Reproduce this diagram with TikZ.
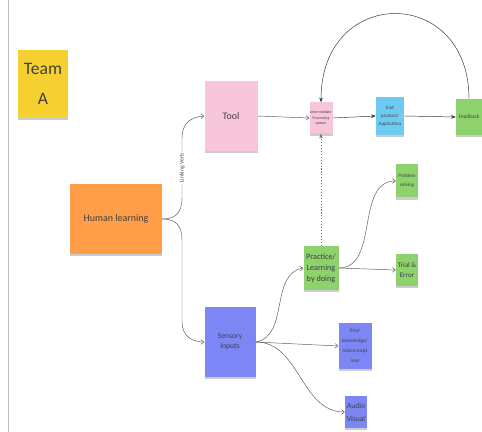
\documentclass[tikz,border=0pt]{standalone}
\usepackage{fontspec}
\setmainfont{Carlito}
\usepackage{tikz}
\usetikzlibrary{arrows.meta, shadows}

\definecolor{noteyellow}{HTML}{F5D031}
\definecolor{noteorange}{HTML}{FF9D48}
\definecolor{notepink}{HTML}{F8C6DA}
\definecolor{notecyan}{HTML}{6DCBF2}
\definecolor{notegreen}{HTML}{8DD26C}
\definecolor{noteblue}{HTML}{7C87F5}

\begin{document}
\begin{tikzpicture}[x=0.03cm, y=-0.03cm,
        note/.style={rectangle, inner sep=0pt, align=center, text=black!75,
            drop shadow={shadow xshift=0pt, shadow yshift=-2pt, fill=black, opacity=0.2}},
        sz/.style 2 args={minimum width=#1*0.03cm, minimum height=#2*0.03cm},
        fs/.style 2 args={font=\fontsize{#1}{#2}\selectfont},
        link/.style={thin, color=black!65, -{Straight Barb[length=2.5pt, width=4pt]}},
        flow/.style={thin, color=black!80, -{Stealth[length=4pt, width=3pt]}}]
                % page and left rule
                \fill[white] (0,0) rectangle (482,432);
                \useasboundingbox (0,0) rectangle (482,432);
                \draw[color = black!25, line width=0.8pt] (8,0) -- (8,432);

                % sticky notes
                \node at (43, 84) [note, sz={50}{67}, fill=noteyellow, fs={15}{25}] (team) {Team\\A};
                \node at (116, 219) [note, sz={92}{70}, fill=noteorange, fs={8.5}{10}] (human) {Human learning};
                \node at (231, 116) [note, sz={53}{70}, fill=notepink, fs={8.5}{10}] (tool) {Tool};
                \node at (321, 118) [note, sz={23}{31}, fill=notepink, fs={3.3}{4.8}] (inter) {Inter mediate\\Processing\\system};
                \node at (390, 116) [note, sz={28}{38}, fill=notecyan, fs={4.2}{7}] (endprod) {End\\product/\\Application};
                \node at (469, 117) [note, sz={26}{36}, fill=notegreen, fs={4.5}{6}] (feedback) {Feedback};
                \node at (321, 268) [note, sz={35}{44}, fill=notegreen, fs={7}{9.5}] (practice) {Practice/\\Learning\\by doing};
                \node at (407, 181) [note, sz={22}{33}, fill=notegreen, fs={4.3}{7.5}] (problem) {Problem\\solving};
                \node at (407, 270) [note, sz={22}{31}, fill=notegreen, fs={6}{8.5}] (trial) {Trial \&\\Error};
                \node at (230, 342) [note, sz={51}{70}, fill=noteblue, fs={6.5}{8.5}] (sensory) {Sensory\\inputs};
                \node at (355, 346) [note, sz={33}{46}, fill=noteblue, fs={4.5}{8.5}] (prior) {Prior\\knowledge/\\misconcept\\ions};
                \node at (356, 412) [note, sz={22}{32}, fill=noteblue, fs={6.5}{11}] (audio) {Audio\\Visual};

                % brace out of human learning
                \draw[link] (human.east) .. controls (176,219) and (182,212) .. (182,198)
                    -- node[midway, sloped, fill=white, inner sep=1pt, text=black!70, fs={5}{6}] {Linking Verb}
                    (182,138) .. controls (182,124) and (190,117) .. (tool.west);
                \draw[link] (human.east) .. controls (176,219) and (182,226) .. (182,240)
                    -- (182,322) .. controls (182,336) and (192,342) .. (sensory.west);

                % top chain
                \draw[link] (tool.east) -- (inter.west);
                \draw[flow] (inter.east) -- (endprod.west);
                \draw[flow] (endprod.east) -- (feedback.west);
                \draw[flow] (feedback.north) .. controls (469,-15) and (321,-15) .. (inter.north);
                \draw[flow, color=black!55, dash pattern=on 1pt off 1.5pt] (practice.north) -- (inter.south);

                % sensory and practice branches
                \draw[link] (sensory.east) to[out=10, in=190] (practice.west);
                \draw[link] (sensory.east) -- (prior.west);
                \draw[link] (sensory.east) to[out=0, in=180] (audio.west);
                \draw[link] (practice.east) to[out=0, in=180] (problem.west);
                \draw[link] (practice.east) -- (trial.west);
            \end{tikzpicture}
\end{document}
